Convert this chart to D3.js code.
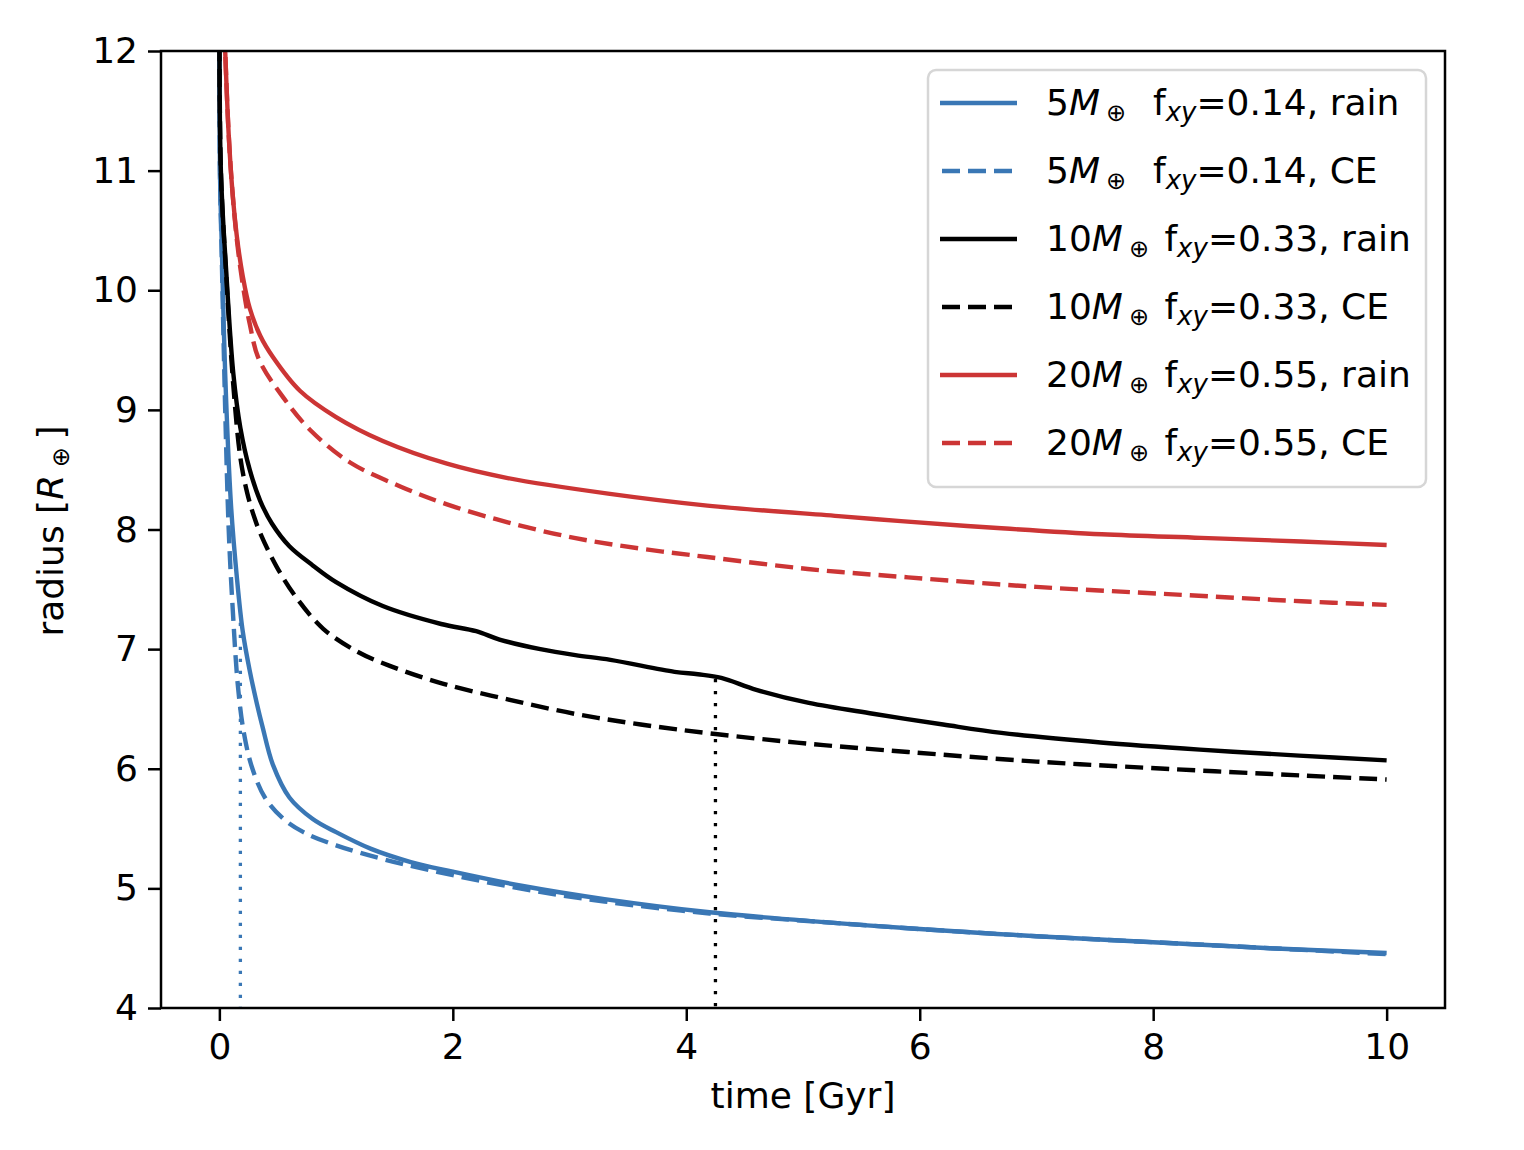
<!DOCTYPE html>
<html lang="en">
<head>
    <meta charset="UTF-8">
    <title>Radius evolution</title>
    <script src="https://d3js.org/d3.v7.min.js"></script>
    <style>
        body {
            margin: 0;
            background: #fff;
            font-family: 'DejaVu Sans', sans-serif;
        }

        svg text {
            font-family: 'DejaVu Sans', sans-serif;
            fill: #000;
            white-space: pre;
        }

        .axis path, .axis line {
            stroke: #000;
            stroke-width: 2.5px;
        }
    </style>
</head>
<body>
    <svg width="1524" height="1150" id="chart"></svg>

    <script>
        // curves: time [Gyr] and radius [R_earth]
        const blueRainT = [0, 0.005, 0.02, 0.05, 0.1, 0.15, 0.2, 0.26, 0.32, 0.37, 0.46, 0.6, 0.8, 1.0, 1.3, 1.64, 2.0, 2.6, 3.3, 4.2, 5.15, 6, 7, 8, 9, 10];
        const blueRainR = [12.6, 11.0, 10.4, 9.3, 8.2, 7.6, 7.15, 6.82, 6.55, 6.35, 6.03, 5.76, 5.58, 5.47, 5.33, 5.22, 5.14, 5.02, 4.91, 4.8, 4.72, 4.66, 4.6, 4.55, 4.5, 4.46];

        const blueCeT = [0, 0.005, 0.02, 0.05, 0.08, 0.11, 0.16, 0.21, 0.28, 0.39, 0.55, 0.72, 1.0, 1.42, 2.0, 2.63, 3.3, 4.2, 5.15, 6, 7, 8, 9, 10];
        const blueCeR = [12.6, 11.0, 10.3, 9.0, 8.0, 7.41, 6.68, 6.3, 6.01, 5.76, 5.58, 5.47, 5.36, 5.24, 5.11, 4.99, 4.89, 4.79, 4.72, 4.66, 4.6, 4.55, 4.5, 4.45];

        const blackRainT = [0, 0.013, 0.06, 0.12, 0.18, 0.26, 0.35, 0.45, 0.6, 0.8, 1.0, 1.4, 1.9, 2.2, 2.4, 2.75, 3.05, 3.35, 3.9, 4.1, 4.3, 4.6, 5.05, 5.6, 6.2, 6.7, 7.55, 8.4, 9.25, 10];
        const blackRainR = [12.5, 11.0, 10.14, 9.3, 8.85, 8.5, 8.24, 8.05, 7.86, 7.7, 7.56, 7.36, 7.21, 7.15, 7.08, 7.0, 6.95, 6.91, 6.81, 6.79, 6.76, 6.66, 6.55, 6.46, 6.37, 6.3, 6.22, 6.16, 6.11, 6.07];

        const blackCeT = [0, 0.013, 0.06, 0.12, 0.18, 0.24, 0.3, 0.35, 0.49, 0.66, 0.89, 1.18, 1.46, 1.92, 2.47, 3.04, 3.61, 4.25, 5.04, 5.9, 7.0, 8.1, 9.25, 10];
        const blackCeR = [12.5, 11.0, 10.1, 9.2, 8.6, 8.3, 8.1, 7.97, 7.69, 7.43, 7.17, 6.98, 6.86, 6.71, 6.58, 6.46, 6.37, 6.29, 6.21, 6.14, 6.06, 6.0, 5.945, 5.91];

        const redRainT = [0.03, 0.05, 0.08, 0.11, 0.15, 0.2, 0.26, 0.35, 0.46, 0.69, 1.0, 1.4, 1.95, 2.47, 3.33, 4.18, 5.33, 5.84, 6.7, 7.56, 8.41, 9.27, 10];
        const redRainR = [12.6, 12.0, 11.3, 10.85, 10.45, 10.12, 9.85, 9.62, 9.44, 9.16, 8.94, 8.74, 8.55, 8.43, 8.3, 8.2, 8.11, 8.07, 8.01, 7.96, 7.93, 7.9, 7.87];

        const redCeT = [0.03, 0.05, 0.08, 0.11, 0.15, 0.2, 0.26, 0.34, 0.55, 0.78, 1.12, 1.55, 1.95, 2.47, 3.04, 3.61, 4.18, 5.04, 5.9, 7.0, 8.13, 9.27, 10];
        const redCeR = [12.6, 12.0, 11.3, 10.85, 10.42, 10.05, 9.72, 9.42, 9.1, 8.83, 8.56, 8.36, 8.21, 8.06, 7.93, 7.84, 7.77, 7.67, 7.6, 7.52, 7.46, 7.4, 7.37];

        // vertical dotted markers (time, radius where they stop)
        const markerT = [0.18, 4.25];
        const markerR = [7.22, 6.75];

        const masses = ["5", "5", "10", "10", "20", "20"];
        const fxy = ["0.14", "0.14", "0.33", "0.33", "0.55", "0.55"];
        const models = ["rain", "CE", "rain", "CE", "rain", "CE"];

        const xTicks = [0, 2, 4, 6, 8, 10];
        const yTicks = [4, 5, 6, 7, 8, 9, 10, 11, 12];

        const blue = "#3a77b5", black = "#000000", red = "#cc3535";
        const colors = [blue, blue, black, black, red, red];
        const markerColors = [blue, black];

        const series = [
            [blueRainT, blueRainR], [blueCeT, blueCeR],
            [blackRainT, blackRainR], [blackCeT, blackCeR],
            [redRainT, redRainR], [redCeT, redCeR]
        ].map(([t, r], i) => ({
            pts: t.map((d, j) => [d, r[j]]),
            color: colors[i],
            dashed: models[i] === "CE"
        }));

        const plotLeft = 161, plotRight = 1445, plotTop = 51, plotBottom = 1008;
        const x = d3.scaleLinear().domain([-0.5, 10.5]).range([plotLeft, plotRight]);
        const y = d3.scaleLinear().domain([4, 12]).range([plotBottom, plotTop]);

        const svg = d3.select("#chart");

        svg.append("clipPath").attr("id", "plotclip")
            .append("rect")
            .attr("x", plotLeft).attr("y", plotTop)
            .attr("width", plotRight - plotLeft).attr("height", plotBottom - plotTop);

        const line = d3.line()
            .x(d => x(d[0]))
            .y(d => y(d[1]))
            .curve(d3.curveCatmullRom.alpha(0.5));

        const plot = svg.append("g").attr("clip-path", "url(#plotclip)");

        plot.selectAll(".curve").data(series).enter().append("path")
            .attr("class", "curve")
            .attr("d", d => line(d.pts))
            .attr("fill", "none")
            .attr("stroke", d => d.color)
            .attr("stroke-width", 4.4)
            .attr("stroke-dasharray", d => d.dashed ? "18,8" : null);

        plot.selectAll(".marker").data(markerT).enter().append("line")
            .attr("class", "marker")
            .attr("x1", d => x(d)).attr("x2", d => x(d))
            .attr("y1", (d, i) => y(markerR[i]))
            .attr("y2", y(4))
            .attr("stroke", (d, i) => markerColors[i])
            .attr("stroke-width", 3.3)
            .attr("stroke-dasharray", "3.3,8.7");

        // axes
        const xAxis = svg.append("g").attr("class", "axis")
            .attr("transform", `translate(0,${plotBottom})`)
            .call(d3.axisBottom(x).tickValues(xTicks).tickSize(13).tickPadding(11).tickFormat(d3.format("d")));
        const yAxis = svg.append("g").attr("class", "axis")
            .attr("transform", `translate(${plotLeft},0)`)
            .call(d3.axisLeft(y).tickValues(yTicks).tickSize(13).tickPadding(10).tickFormat(d3.format("d")));
        [xAxis, yAxis].forEach(a => {
            a.select(".domain").remove();
            a.selectAll("text").style("font-size", "36px").attr("fill", "#000");
        });
        xAxis.selectAll("text").attr("dy", "0.75em");

        svg.append("rect")
            .attr("x", plotLeft).attr("y", plotTop)
            .attr("width", plotRight - plotLeft).attr("height", plotBottom - plotTop)
            .attr("fill", "none").attr("stroke", "#000").attr("stroke-width", 2.5);

        svg.append("text")
            .attr("x", (plotLeft + plotRight) / 2).attr("y", 1108)
            .attr("text-anchor", "middle")
            .style("font-size", "36px")
            .text("time [Gyr]");

        const yl = svg.append("text")
            .attr("transform", "translate(63,531) rotate(-90)")
            .attr("text-anchor", "middle")
            .style("font-size", "36px");
        yl.append("tspan").text("radius [");
        yl.append("tspan").style("font-style", "italic").text("R");
        yl.append("tspan").style("font-size", "24px").attr("dy", 6).text(" ⊕ ");
        yl.append("tspan").attr("dy", -6).text("]");

        // legend
        const legend = svg.append("g");
        legend.append("rect")
            .attr("x", 928).attr("y", 70)
            .attr("width", 498).attr("height", 417)
            .attr("rx", 8)
            .attr("fill", "#fff").attr("fill-opacity", 0.8)
            .attr("stroke", "#d6d6d6").attr("stroke-width", 2.5);

        const rows = legend.selectAll(".row").data(series).enter().append("g")
            .attr("class", "row")
            .attr("transform", (d, i) => `translate(0,${103 + i * 68})`);

        rows.append("line")
            .attr("x1", 940).attr("x2", 1017)
            .attr("stroke", d => d.color)
            .attr("stroke-width", 4.4)
            .attr("stroke-dasharray", d => d.dashed ? "18,8" : null)
            .attr("stroke-dashoffset", d => d.dashed ? -2 : 0);

        const label = rows.append("text")
            .attr("x", 1046).attr("y", 12)
            .style("font-size", "36px");
        label.append("tspan").text((d, i) => masses[i]);
        label.append("tspan").style("font-style", "italic").text("M");
        label.append("tspan").style("font-size", "24px").attr("dx", 6).attr("dy", 6).text("⊕");
        label.append("tspan").attr("dx", 4).attr("dy", -6).text((d, i) => masses[i].length === 1 ? "  f" : " f");
        label.append("tspan").style("font-style", "italic").style("font-size", "26px").attr("dy", 6).text("xy");
        label.append("tspan").attr("dy", -6).text((d, i) => `=${fxy[i]}, ${models[i]}`);
    </script>
</body>
</html>
